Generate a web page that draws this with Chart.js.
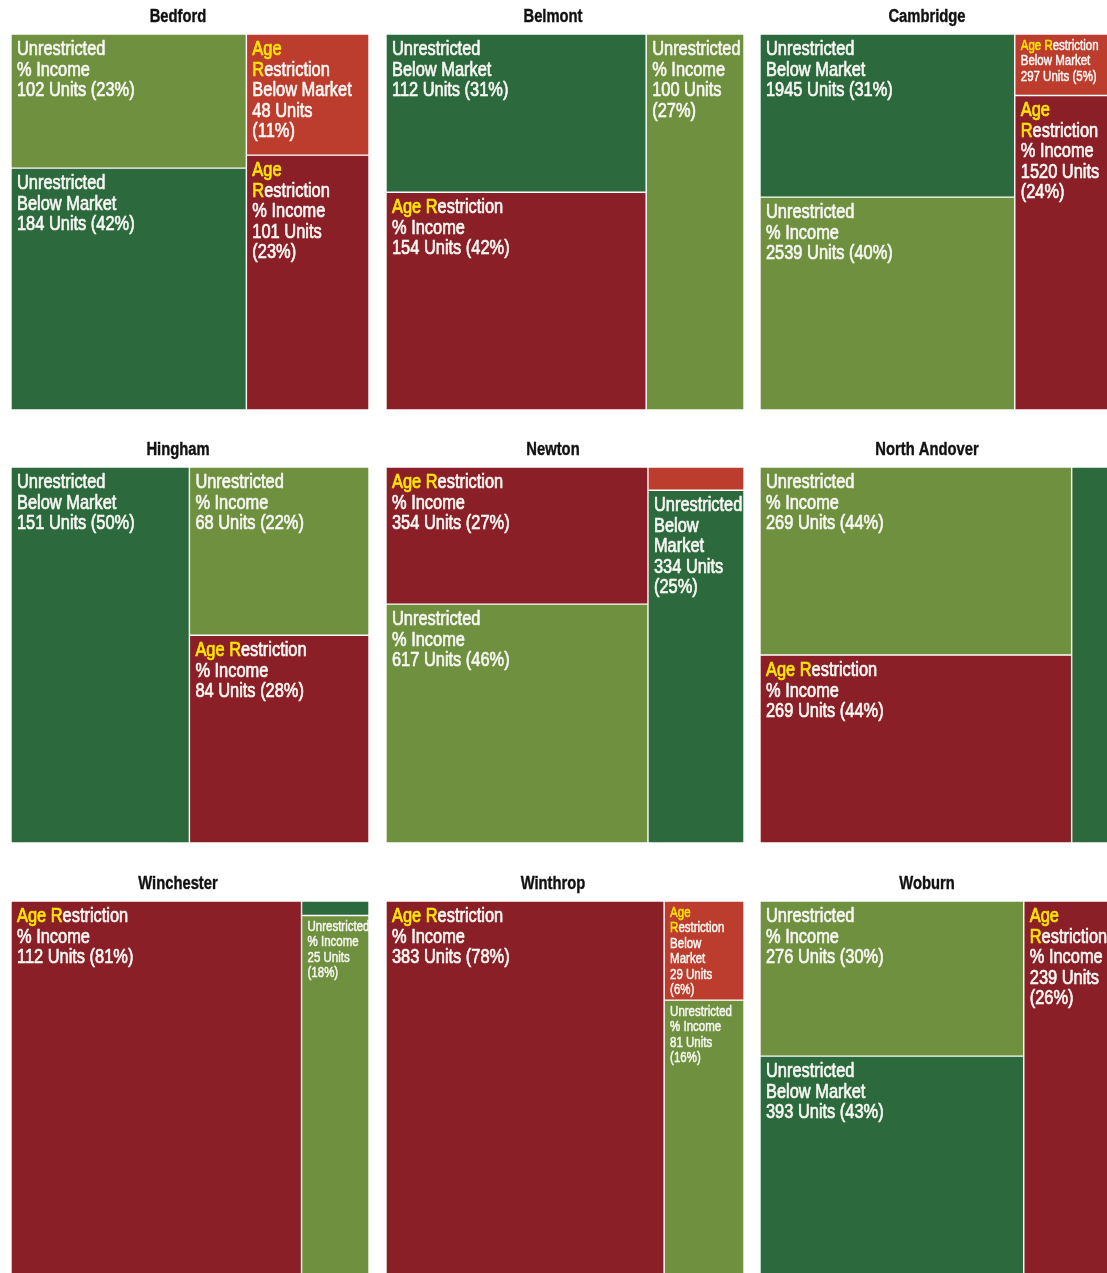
<!DOCTYPE html>
<html>
<head>
<meta charset="utf-8">
<script src="https://cdn.jsdelivr.net/npm/chart.js@4.4.1/dist/chart.umd.min.js"></script>
<style>
  html, body { margin: 0; padding: 0; background: #fff; overflow: hidden; }
  #board { position: relative; width: 1107px; height: 1273px; overflow: hidden; background: #fff; }
  #board canvas { position: absolute; }
</style>
</head>
<body>
<div id="board"></div>
<script>
// ---- Data: affordable units by town, split by restriction and income type ----
const towns = ['Bedford', 'Belmont', 'Cambridge', 'Hingham', 'Newton', 'North Andover', 'Winchester', 'Winthrop', 'Woburn'];
const unrestrictedBelowMarket = [184, 112, 1945, 151, 334, 80, 1, 0, 393];
const unrestrictedIncome      = [102, 100, 2539, 68, 617, 269, 25, 81, 276];
const ageBelowMarket          = [48, 0, 297, 0, 22, 0, 0, 29, 0];
const ageIncome               = [101, 154, 1520, 84, 354, 269, 112, 383, 239];

const categoryKeys  = ['UBM', 'UI', 'ABM', 'AI'];
const categoryGroup = ['Unrestricted', 'Unrestricted', 'Age Restriction', 'Age Restriction'];
const categoryType  = ['Below Market', '% Income', 'Below Market', '% Income'];

// Column arrangement of each treemap (left to right, each column top to bottom)
const arrangements = [
  [['UI', 'UBM'], ['ABM', 'AI']],
  [['UBM', 'AI'], ['UI']],
  [['UBM', 'UI'], ['ABM', 'AI']],
  [['UBM'], ['UI', 'AI']],
  [['AI', 'UI'], ['ABM', 'UBM']],
  [['UI', 'AI'], ['UBM']],
  [['AI'], ['UBM', 'UI']],
  [['AI'], ['ABM', 'UI']],
  [['UI', 'UBM'], ['AI']]
];

const seriesByKey = { UBM: unrestrictedBelowMarket, UI: unrestrictedIncome, ABM: ageBelowMarket, AI: ageIncome };

// ---- Styles ----
const COLORS = { UBM: '#2c6a3e', UI: '#6f903f', ABM: '#bc3c2d', AI: '#8a1f28' };
const WHITE = '#f7f7f3';
const YELLOW = '#ffe600';
const FONT = "'Liberation Sans', Arial, sans-serif";
const SQUEEZE = 0.82;            // condensed rendering of the sans face
const LABEL_STYLES = [
  { size: 20, lh: 20.5, first: 21, wrapPad: 18, minPad: 6, bottomPad: 4, stroke: 0.7 },
  { size: 14, lh: 15.5, first: 15.5, wrapPad: 12, minPad: 0, bottomPad: 0, stroke: 0.5 }
];
const PANEL_W = 358, PANEL_H = 376, TITLE_H = 34, TITLE_SHIFT = 12;
const colLefts = [11, 386, 760];
const rowTops = [34, 467, 901];

// ---- Slice layout in unit coordinates, computed from the values ----
function layoutTown(t) {
  const cols = arrangements[t];
  const val = k => seriesByKey[k][t];
  const total = cols.flat().reduce((s, k) => s + val(k), 0);
  const cells = [];
  let x = 0;
  cols.forEach(col => {
    const colTotal = col.reduce((s, k) => s + val(k), 0);
    const x1 = x + colTotal / total;
    let y = 0;
    col.forEach(k => {
      const y1 = y + val(k) / colTotal;
      cells.push({ key: k, value: val(k), x0: x, x1: x1, y0: y, y1: y1 });
      y = y1;
    });
    x = x1;
  });
  return { cells, total };
}

// ---- A treemap controller built on the bar controller and bar elements ----
class TreemapController extends Chart.BarController {
  updateElements(rects, start, count, mode) {
    const meta = this._cachedMeta;
    const xs = meta.xScale, ys = meta.yScale;
    const cells = this.getDataset().cells;
    for (let i = start; i < start + count; i++) {
      const c = cells[i];
      const left = xs.getPixelForValue(c.x0), right = xs.getPixelForValue(c.x1);
      const top = ys.getPixelForValue(c.y0), bottom = ys.getPixelForValue(c.y1);
      this.updateElement(rects[i], i, {
        horizontal: false,
        x: (left + right) / 2,
        y: top,
        base: bottom,
        width: right - left,
        height: bottom - top,
        inflateAmount: 0,
        borderSkipped: { top: false, right: false, bottom: false, left: false },
        options: this.resolveDataElementOptions(i, mode)
      }, mode);
    }
  }
}
TreemapController.id = 'treemap';
Chart.register(TreemapController);

// ---- Condensed text helpers ----
function textWidth(ctx, s) { return ctx.measureText(s).width * SQUEEZE; }
function drawText(ctx, s, x, y, stroke) {
  ctx.save();
  ctx.translate(x, y);
  ctx.scale(SQUEEZE, 1);
  ctx.fillText(s, 0, 0);
  if (stroke) {
    ctx.strokeStyle = ctx.fillStyle;
    ctx.lineWidth = stroke;
    ctx.lineJoin = 'round';
    ctx.strokeText(s, 0, 0);
  }
  ctx.restore();
}

// ---- Cell labels ----
function plainWords(text) {
  return text.split(' ').map(w => [{ t: w, c: WHITE }]);
}
function groupWords(group) {
  if (group === 'Age Restriction') {
    const [first, second] = group.split(' ');
    return [[{ t: first, c: YELLOW }], [{ t: second[0], c: YELLOW }, { t: second.slice(1), c: WHITE }]];
  }
  return plainWords(group);
}
function labelParagraphs(cell, total) {
  const idx = categoryKeys.indexOf(cell.key);
  const pct = Math.round(cell.value / total * 100);
  return [
    groupWords(categoryGroup[idx]),
    plainWords(categoryType[idx]),
    plainWords(cell.value + ' Units (' + pct + '%)')
  ];
}
function wordWidth(ctx, word) {
  return word.reduce((s, seg) => s + textWidth(ctx, seg.t), 0);
}
function wrapParagraphs(ctx, paragraphs, maxW) {
  const space = textWidth(ctx, ' ');
  const lines = [];
  paragraphs.forEach(words => {
    let line = [], lw = 0;
    words.forEach(word => {
      const ww = wordWidth(ctx, word);
      if (line.length && lw + space + ww > maxW) {
        lines.push(line); line = [word]; lw = ww;
      } else {
        lw += (line.length ? space : 0) + ww; line.push(word);
      }
    });
    if (line.length) lines.push(line);
  });
  return lines;
}

const cellLabels = {
  id: 'cellLabels',
  afterDatasetsDraw(chart) {
    const ctx = chart.ctx;
    const ds = chart.data.datasets[0];
    const meta = chart.getDatasetMeta(0);
    meta.data.forEach((el, i) => {
      const cell = ds.cells[i];
      const left = el.x - el.width / 2;
      const top = Math.min(el.y, el.base);
      const w = el.width, h = Math.abs(el.base - el.y);
      const paragraphs = labelParagraphs(cell, ds.total);
      let chosen = null;
      for (const st of LABEL_STYLES) {
        ctx.font = st.size + 'px ' + FONT;
        const widest = Math.max(...paragraphs.flat().map(word => wordWidth(ctx, word)));
        const lines = wrapParagraphs(ctx, paragraphs, w - st.wrapPad);
        const needH = st.first + (lines.length - 1) * st.lh + st.bottomPad;
        if (widest <= w - st.minPad && needH <= h) { chosen = { st, lines }; break; }
      }
      if (!chosen) return;
      const st = chosen.st;
      ctx.save();
      ctx.beginPath();
      ctx.rect(left, top, w, h);
      ctx.clip();
      ctx.font = st.size + 'px ' + FONT;
      ctx.textBaseline = 'alphabetic';
      ctx.textAlign = 'left';
      const space = textWidth(ctx, ' ');
      chosen.lines.forEach((line, k) => {
        let x = left + 6;
        const y = top + st.first + k * st.lh;
        line.forEach((word, wi) => {
          if (wi > 0) x += space;
          word.forEach(seg => {
            ctx.fillStyle = seg.c;
            drawText(ctx, seg.t, x, y, st.stroke);
            x += textWidth(ctx, seg.t);
          });
        });
      });
      ctx.restore();
    });
  }
};

// ---- Town name above each treemap ----
const panelTitle = {
  id: 'panelTitle',
  afterDraw(chart, args, opts) {
    const ctx = chart.ctx;
    const area = chart.chartArea;
    ctx.save();
    ctx.font = 'bold 18px ' + FONT;
    ctx.fillStyle = '#111';
    ctx.textBaseline = 'alphabetic';
    ctx.textAlign = 'left';
    const w = textWidth(ctx, opts.text);
    const cx = (area.left + area.right) / 2 - TITLE_SHIFT;
    drawText(ctx, opts.text, cx - w / 2, 22, 0.4);
    ctx.restore();
  }
};

// ---- One small treemap per town ----
const board = document.getElementById('board');
towns.forEach((town, t) => {
  const { cells, total } = layoutTown(t);
  const canvas = document.createElement('canvas');
  const cw = PANEL_W, ch = TITLE_H + PANEL_H;
  canvas.width = cw; canvas.height = ch;
  canvas.style.width = cw + 'px'; canvas.style.height = ch + 'px';
  canvas.style.left = colLefts[t % 3] + 'px';
  canvas.style.top = (rowTops[Math.floor(t / 3)] - TITLE_H) + 'px';
  board.appendChild(canvas);

  new Chart(canvas, {
    type: 'treemap',
    data: {
      labels: cells.map((c, i) => i),
      datasets: [{
        data: cells.map(c => c.value),
        cells: cells,
        total: total,
        backgroundColor: cells.map(c => COLORS[c.key]),
        borderColor: 'rgba(255,255,255,0.8)',
        borderWidth: 0.7
      }]
    },
    options: {
      responsive: false,
      animation: false,
      devicePixelRatio: 1,
      events: [],
      layout: { padding: { left: 0, top: TITLE_H, right: 0, bottom: 0 } },
      plugins: {
        legend: { display: false },
        tooltip: { enabled: false },
        title: { display: false },
        panelTitle: { text: town }
      },
      scales: {
        x: { type: 'linear', min: 0, max: 1, display: false, offset: false },
        y: { type: 'linear', min: 0, max: 1, reverse: true, display: false }
      }
    },
    plugins: [cellLabels, panelTitle]
  });
});
</script>
</body>
</html>
